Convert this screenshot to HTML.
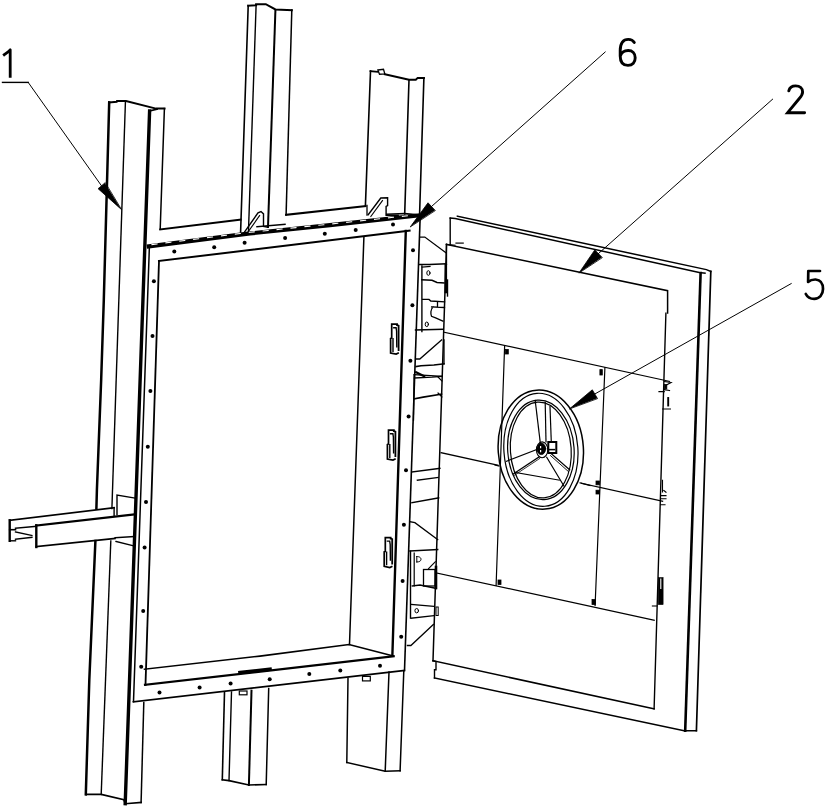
<!DOCTYPE html>
<html><head><meta charset="utf-8"><title>Door frame drawing</title>
<style>
html,body{margin:0;padding:0;background:#fff;}
body{width:827px;height:806px;overflow:hidden;font-family:"Liberation Sans",sans-serif;}
svg{display:block;}
</style></head><body>
<svg width="827" height="806" viewBox="0 0 827 806">
<g fill="none" stroke="#000" stroke-linecap="square" stroke-linejoin="miter">
<path d="M3.2,55.6 C5.5,53.8 8.5,51.8 10.2,49.8 L10.2,77.8" stroke-width="2.8" stroke-linejoin="round" stroke-linecap="butt"/>
<path d="M2.5,82.4 L28.2,82.4" stroke-width="1.4"/>
<path d="M28.2,82.4 L101.5,185.8" stroke-width="1.0"/>
<path d="M121.3,209.4 L98.1,188.7 L104.9,182.9 Z" fill="#000" stroke-width="0.8"/>
<path d="M634.3,42.5 C633,40.3 631,39.4 628.3,39.4 C623,39.4 620.3,43.5 620.2,50.5 L620.2,56 C620.2,62.2 623.3,65.4 628,65.4 C632.6,65.4 635.2,62.2 635.2,57.8 C635.2,53.3 632.4,50.5 628.2,50.5 C624.3,50.5 621.4,52.6 620.3,56" stroke-width="2.9" stroke-linecap="round"/>
<path d="M605.2,52.0 L431.5,206.5" stroke-width="1.0"/>
<path d="M410.5,226.6 L428.0,202.8 L435.0,210.2 Z" fill="#000" stroke-width="0.8"/>
<path d="M788.8,90.8 C789.6,87.6 791.9,85.9 795.6,85.9 C800,85.9 802.6,88.3 802.6,92 C802.6,94.6 801.4,96.2 799.3,98.5 L787.6,112.7 L804.6,112.7" stroke-width="2.9" stroke-linecap="round"/>
<path d="M772.6,99.2 L598.4,253.6" stroke-width="1.0"/>
<path d="M579.2,272.7 L594.8,249.9 L602.0,257.3 Z" fill="#000" stroke-width="0.8"/>
<path d="M820,271 L808.3,271 L808.1,282 C810,280.3 812.7,279.4 815.6,279.5 C820.6,279.9 823,283.9 823,289.1 C823,295 819.3,298.9 814.2,298.9 C810.2,298.9 807.3,297.1 805.8,294" stroke-width="2.7" stroke-linecap="round" stroke-linejoin="round"/>
<path d="M791.2,283.6 L594.8,394.0" stroke-width="1.0"/>
<path d="M569.7,408.7 L592.3,389.8 L597.3,398.2 Z" fill="#000" stroke-width="0.8"/>
<path d="M109.2,102.4 L116.7,101.8 L117.0,101.0 L126.0,101.0 L156.0,108.6 L164.5,108.6" stroke-width="2.0"/>
<path d="M149.6,111.0 L157.0,109.2" stroke-width="1.8"/>
<path d="M109.2,102.4 L103.8,300.0 L101.2,379.0 L96.9,490.0 L96.4,508.5" stroke-width="2.5"/>
<path d="M95.4,541.0 L89.3,680.0 L85.8,794.4" stroke-width="2.5"/>
<path d="M125.4,102.4 L111.9,508.5" stroke-width="1.4"/>
<path d="M110.8,541.0 L101.2,794.4" stroke-width="1.4"/>
<path d="M149.6,111.0 L125.2,803.7" stroke-width="3.4"/>
<path d="M164.4,108.6 L160.2,229.0" stroke-width="1.5"/>
<path d="M143.8,702.6 L141.1,802.4" stroke-width="1.5"/>
<path d="M85.8,794.4 L101.2,794.4 L123.8,799.7 L125.2,803.7 L141.1,802.4" stroke-width="1.6"/>
<path d="M248.2,5.7 L256.1,5.2 L256.1,4.2 L265.8,4.2 L275.4,9.5 L291.8,10.1" stroke-width="2.0"/>
<path d="M248.2,5.7 L240.6,232.0" stroke-width="1.6"/>
<path d="M256.1,5.2 L248.5,230.5" stroke-width="1.4"/>
<path d="M275.4,10.5 L268.0,227.0" stroke-width="2.0"/>
<path d="M291.8,10.1 L286.1,214.8" stroke-width="1.5"/>
<path d="M224.5,692.0 L222.3,779.8" stroke-width="1.6"/>
<path d="M231.5,692.0 L229.0,780.6" stroke-width="1.4"/>
<path d="M251.5,690.6 L248.9,785.0" stroke-width="2.0"/>
<path d="M268.7,688.5 L266.2,784.5" stroke-width="1.5"/>
<path d="M222.3,779.8 L229.0,780.6 L248.9,785.0 L266.2,784.5" stroke-width="1.6"/>
<path d="M370.5,71.1 L377.3,71.7" stroke-width="1.8"/>
<path d="M377.9,70 L383.5,69.3 L384.8,73.8 L379.5,74.2 Z" stroke-width="1.3"/>
<path d="M384.8,74.2 L409.0,79.8 L415.8,79.8 L417.7,77.9 L423.9,77.9" stroke-width="2.0"/>
<path d="M370.5,71.1 L365.4,206.1" stroke-width="1.6"/>
<path d="M409.0,79.8 L404.7,214.0" stroke-width="1.6"/>
<path d="M423.9,77.9 L419.5,217.0" stroke-width="1.6"/>
<path d="M348.0,678.2 L346.8,762.5" stroke-width="1.5"/>
<path d="M389.0,672.0 L385.2,771.2" stroke-width="1.5"/>
<path d="M403.8,670.7 L400.1,770.7" stroke-width="1.5"/>
<path d="M346.8,762.5 L385.2,771.2 L400.1,770.7" stroke-width="1.5"/>
<path d="M160.2,229.5 L240.6,219.6" stroke-width="2.0"/>
<path d="M286.1,214.8 L365.4,206.1" stroke-width="2.0"/>
<path d="M386.7,214.2 L404.7,213.5 L419.0,215.0" stroke-width="1.6"/>
<path d="M148.9,246.4 L250.0,233.4 L330.0,225.2 L418.0,215.5" stroke-width="4.2"/>
<path d="M152,244.6 L250,232.3 L330,224.1 L416,214.8" stroke="#fff" stroke-width="1.1" stroke-dasharray="5 9"/>
<path d="M159.0,261.0 L409.6,230.6" stroke-width="2.0"/>
<path d="M149.4,246.4 L133.5,701.6" stroke-width="1.5"/>
<path d="M159.0,261.0 L145.5,685.0" stroke-width="1.8"/>
<path d="M420.2,216.0 L404.5,670.5" stroke-width="1.6"/>
<path d="M405.8,231.0 L392.4,654.5" stroke-width="2.4"/>
<path d="M363.9,237.0 L349.5,644.5" stroke-width="1.5"/>
<path d="M144.5,669.2 L260.0,656.1 L349.0,644.5 L393.5,656.1" stroke-width="1.6"/>
<path d="M145.0,684.8 L393.6,656.3" stroke-width="2.2"/>
<path d="M240.0,672.5 L270.0,669.2" stroke-width="3.6"/>
<path d="M133.5,701.8 L404.3,670.5" stroke-width="1.8"/>
<rect x="362.5" y="676.4" width="7.8" height="4.5" stroke-width="1.2"/>
<rect x="239.3" y="691" width="7.7" height="3.8" stroke-width="1.2"/>
<path d="M244.1,232.6 L258.0,212.9 L261.0,211.6 L263.5,213.9 L263.5,226.5 L267.7,227.2" stroke-width="1.4"/>
<path d="M246.9,233.6 L259.6,215.6" stroke-width="1.1"/>
<path d="M368.2,214.7 L380.8,198.0 L387.6,197.7 L387.6,205.5 L386.1,206.4 L386.1,215.2 L398.2,215.2" stroke-width="1.4"/>
<path d="M370.8,216.5 L382.5,200.5" stroke-width="1.1"/>
<path d="M367.0,205.5 L367.0,215.2" stroke-width="1.3"/>
<path d="M257.0,226.8 L285.0,224.3" stroke-width="1.5"/>
<circle cx="174.3" cy="251.5" r="2.0" fill="#000" stroke="none"/>
<circle cx="214.2" cy="247.2" r="2.0" fill="#000" stroke="none"/>
<circle cx="244.6" cy="242.8" r="2.0" fill="#000" stroke="none"/>
<circle cx="285.1" cy="238.0" r="2.0" fill="#000" stroke="none"/>
<circle cx="324.8" cy="233.8" r="2.0" fill="#000" stroke="none"/>
<circle cx="355.7" cy="229.9" r="2.0" fill="#000" stroke="none"/>
<circle cx="393.0" cy="224.5" r="2.0" fill="#000" stroke="none"/>
<circle cx="153.9" cy="281.3" r="2.0" fill="#000" stroke="none"/>
<circle cx="152.5" cy="336.1" r="2.0" fill="#000" stroke="none"/>
<circle cx="150.4" cy="390.9" r="2.0" fill="#000" stroke="none"/>
<circle cx="147.8" cy="446.7" r="2.0" fill="#000" stroke="none"/>
<circle cx="146.0" cy="502.0" r="2.0" fill="#000" stroke="none"/>
<circle cx="144.6" cy="547.4" r="2.0" fill="#000" stroke="none"/>
<circle cx="143.2" cy="610.9" r="2.0" fill="#000" stroke="none"/>
<circle cx="141.2" cy="666.8" r="2.0" fill="#000" stroke="none"/>
<circle cx="159.5" cy="692.5" r="2.0" fill="#000" stroke="none"/>
<circle cx="199.6" cy="687.4" r="2.0" fill="#000" stroke="none"/>
<circle cx="230.6" cy="683.6" r="2.0" fill="#000" stroke="none"/>
<circle cx="269.7" cy="679.3" r="2.0" fill="#000" stroke="none"/>
<circle cx="309.3" cy="674.1" r="2.0" fill="#000" stroke="none"/>
<circle cx="340.3" cy="670.6" r="2.0" fill="#000" stroke="none"/>
<circle cx="380.0" cy="665.8" r="2.0" fill="#000" stroke="none"/>
<circle cx="413.0" cy="250.3" r="2.0" fill="#000" stroke="none"/>
<circle cx="412.4" cy="305.3" r="2.0" fill="#000" stroke="none"/>
<circle cx="410.4" cy="360.8" r="2.0" fill="#000" stroke="none"/>
<circle cx="408.6" cy="416.4" r="2.0" fill="#000" stroke="none"/>
<circle cx="406.0" cy="470.2" r="2.0" fill="#000" stroke="none"/>
<circle cx="403.9" cy="524.8" r="2.0" fill="#000" stroke="none"/>
<circle cx="402.6" cy="580.9" r="2.0" fill="#000" stroke="none"/>
<circle cx="401.2" cy="636.8" r="2.0" fill="#000" stroke="none"/>
<path d="M9.7,520.3 L9.7,540.8" stroke-width="2.4"/>
<path d="M9.7,520.3 L114.1,507.7" stroke-width="1.6"/>
<path d="M114.1,507.7 L114.1,516.0" stroke-width="1.4"/>
<path d="M36.3,525.5 L133.5,514.5" stroke-width="2.2"/>
<path d="M9.7,529.7 L15.5,529.7" stroke-width="1.6"/>
<path d="M15.5,528.2 L36.3,526.3" stroke-width="1.4"/>
<path d="M15.5,532.0 L31.9,535.5" stroke-width="1.4"/>
<path d="M15.5,539.3 L31.9,537.4" stroke-width="1.4"/>
<path d="M9.7,540.8 L15.5,540.8" stroke-width="1.4"/>
<path d="M36.3,525.3 L36.3,547.0" stroke-width="2.4"/>
<path d="M36.3,546.6 L115.0,538.5" stroke-width="1.6"/>
<path d="M117.0,514.5 L117.0,495.1 L134.5,498.0" stroke-width="1.4"/>
<path d="M115.1,537.7 L134.0,536.5" stroke-width="1.4"/>
<path d="M116.0,541.5 L134.0,546.0" stroke-width="1.4"/>
<path d="M457.4,216.2 L706.4,269.6 L710.8,271.4" stroke-width="1.5"/>
<path d="M450.2,218.1 L455.2,218.6 L699.2,272.5 L705.0,273.2" stroke-width="1.5"/>
<path d="M450.2,218.1 L450.2,244.5" stroke-width="1.4"/>
<path d="M710.8,271.4 L696.4,730.7" stroke-width="1.7"/>
<path d="M700.6,273.0 L685.2,730.7" stroke-width="2.6"/>
<path d="M434.5,678.0 L684.1,730.7 L696.4,730.7" stroke-width="1.5"/>
<path d="M446.5,244.5 L667.6,290.7 L667.6,313.0" stroke-width="1.5"/>
<path d="M665.9,313.3 L654.1,708.9" stroke-width="1.4"/>
<path d="M446.5,244.5 L433.0,660.8" stroke-width="1.5"/>
<path d="M433.0,660.8 L654.1,708.9" stroke-width="1.5"/>
<path d="M456.0,243.1 L463.2,243.1" stroke-width="1.2"/>
<path d="M444.5,332.4 L669.4,381.4" stroke-width="1.2"/>
<path d="M441.1,452.7 L498.0,465.2" stroke-width="1.2"/>
<path d="M581.5,483.3 L662.6,501.3" stroke-width="1.2"/>
<path d="M436.9,573.0 L654.2,620.3" stroke-width="1.2"/>
<path d="M504.6,346.7 L496.1,585.4" stroke-width="1.2"/>
<path d="M604.9,367.7 L595.1,605.5" stroke-width="1.2"/>
<ellipse cx="540.8" cy="449.6" rx="42.6" ry="59.6" transform="rotate(-4 540.8 449.6)" stroke-width="1.5"/>
<ellipse cx="540.9" cy="449.8" rx="37.0" ry="56.6" transform="rotate(-4 540.9 449.8)" stroke-width="1.2"/>
<ellipse cx="540.9" cy="449.9" rx="33.2" ry="49.8" transform="rotate(-4 540.9 449.9)" stroke-width="1.2"/>
<ellipse cx="540.8" cy="450.0" rx="30.4" ry="47.9" transform="rotate(-4 540.8 450.0)" stroke-width="1.2"/>
<ellipse cx="541.3" cy="448.8" rx="4.4" ry="5.8" fill="#000" stroke-width="0.8"/>
<ellipse cx="542.1" cy="449.8" rx="5.7" ry="7.9" stroke-width="1.1"/>
<path d="M540.6,446.5 L540.6,447.6 M540.6,450.5 L540.6,451.6" stroke="#fff" stroke-width="1.2"/>
<rect x="548.3" y="442" width="8" height="11" stroke-width="2"/>
<path d="M549.6,449.6 L554.5,449.6" stroke-width="1.5"/>
<path d="M535.2,400.5 L540.5,444.5" stroke-width="1.2"/>
<path d="M545.2,402.0 L546.0,442.0" stroke-width="1.2"/>
<path d="M550.0,406.5 L551.3,442.5" stroke-width="1.2"/>
<path d="M537.5,449.2 L506.5,461.3" stroke-width="1.2"/>
<path d="M538.7,457.2 L513.4,473.9" stroke-width="1.2"/>
<path d="M539.7,458.5 L514.5,475.2" stroke-width="0.8"/>
<path d="M546.7,457.2 L563.9,486.0" stroke-width="1.2"/>
<path d="M551.3,453.8 L569.7,469.9" stroke-width="1.2"/>
<path d="M550.5,455.6 L568.5,471.6" stroke-width="0.9"/>
<path d="M514.5,472.2 L559.3,480.2" stroke-width="1.1"/>
<path d="M580.0,482.9 L590.0,485.5" stroke-width="1.1"/>
<path d="M495.0,465.0 L499.0,466.0" stroke-width="1.1"/>
<path d="M446.5,244.4 L455.0,245.2" stroke-width="1.2"/>
<path d="M433.0,660.8 L436.0,661.6 L436.0,669.8 L434.5,669.8 L434.5,678.0" stroke-width="1.4"/>
<path d="M420.0,237.1 L424.8,237.1 L446.1,252.8" stroke-width="1.3"/>
<path d="M446.5,244.4 L446.5,264.5" stroke-width="1.3"/>
<path d="M419.5,264.5 L429.2,264.5 L446.1,263.7" stroke-width="1.5"/>
<path d="M421.9,266.0 L421.9,331.6" stroke-width="1.4"/>
<path d="M422.3,267.0 L430.0,266.5" stroke-width="1.2"/>
<path d="M421.9,279.8 L432.0,280.2 L437.0,282.5 L444.0,283.0" stroke-width="1.5"/>
<path d="M422.7,299.4 L429.0,299.4 L430.8,301.0 L444.5,301.8" stroke-width="1.4"/>
<path d="M431.6,307 L444.5,307.5 M433,307 C430.5,309 430.5,314 431.5,316.3 L435.6,317.9 L442.9,321.1 M437.5,302 L437.5,307" stroke-width="1.3"/>
<path d="M415.5,330.0 L442.9,329.2" stroke-width="1.4"/>
<ellipse cx="428.4" cy="273" rx="1.6" ry="2.3" transform="rotate(0 428.4 273)" stroke-width="1.0"/>
<ellipse cx="426.8" cy="324.3" rx="1.6" ry="2.3" transform="rotate(0 426.8 324.3)" stroke-width="1.0"/>
<path d="M445.8,265.0 L445.8,292.0" stroke-width="2.6"/>
<path d="M447.5,280.0 L447.5,296.0" stroke-width="1.4"/>
<path d="M416.1,359.0 L419.8,359.0 L441.6,340.0" stroke-width="1.3"/>
<path d="M416.1,366.6 L421.0,365.8 L433.9,365.0 L444.0,363.8" stroke-width="1.5"/>
<path d="M444.0,340.0 L444.0,363.8" stroke-width="1.3"/>
<path d="M416.1,372.3 L424.2,376.3" stroke-width="2.2"/>
<path d="M414.5,374.7 L441.9,376.3" stroke-width="1.4"/>
<path d="M414.5,378.0 L432.0,377.2 L441.9,376.3" stroke-width="1.3"/>
<path d="M414.5,398.7 L423.2,397.1 L441.5,394.2" stroke-width="1.6"/>
<path d="M414.1,374.7 L413.5,420.0" stroke-width="1.3"/>
<path d="M412.1,471.9 L439.9,468.4" stroke-width="1.4"/>
<path d="M438.0,377.0 L441.9,381.0" stroke-width="1.2"/>
<path d="M438.0,393.0 L441.9,397.0" stroke-width="1.2"/>
<path d="M417.4,480.2 L438.0,477.5" stroke-width="1.4"/>
<path d="M411.9,502.8 L438.7,497.9" stroke-width="1.4"/>
<path d="M409.9,521.7 L414.9,522.7 L437.7,539.6" stroke-width="1.3"/>
<path d="M409.9,551.0 L437.7,549.5" stroke-width="1.4"/>
<path d="M410.5,551.2 L410.5,618.0" stroke-width="1.4"/>
<path d="M414.2,553.0 L414.2,586.0" stroke-width="1.2"/>
<path d="M416.8,556.5 L416.8,562 M416.8,556.5 C420,556.5 421,558 421,559.3 C421,561 419.5,562 416.8,562" stroke-width="1.0"/>
<rect x="423.5" y="569.5" width="11.5" height="16.5" stroke-width="1.3"/>
<path d="M428.5,568.6 L435.3,561.8" stroke-width="1.1"/>
<path d="M436.0,567.0 L436.0,588.0" stroke-width="2.6"/>
<path d="M412.4,586.0 L420.0,585.0 L435.9,588.4" stroke-width="1.5"/>
<path d="M411.1,604.5 L433.4,606.4" stroke-width="1.3"/>
<path d="M411.1,618.2 L433.4,615.7" stroke-width="1.3"/>
<ellipse cx="416.7" cy="610.7" rx="1.8" ry="2.2" transform="rotate(0 416.7 610.7)" stroke-width="1.0"/>
<rect x="436" y="607" width="2.2" height="8.5" stroke-width="1.0"/>
<path d="M407.4,645.5 L410.9,645.5 L433.4,624.4" stroke-width="1.3"/>
<path d="M397.1,324.2 L391.7,324.2 L391.7,338.0 L390.6,338.5 L390.6,353.0 L396.2,354.1 L398.1,353.2" stroke-width="1.7"/>
<path d="M393.8,327.7 L396.1,327.7 L396.6,331.2 L396.8,346.7 M393.0,338.7 L393.0,351.2" stroke-width="1.4"/>
<path d="M397.1,325.2 L398.6,325.7 L398.6,350.2" stroke-width="1.8"/>
<path d="M393.9,430.2 L388.5,430.2 L388.5,444.0 L387.4,444.5 L387.4,459.0 L393.0,460.1 L394.9,459.2" stroke-width="1.7"/>
<path d="M390.6,433.7 L392.9,433.7 L393.4,437.2 L393.6,452.7 M389.8,444.7 L389.8,457.2" stroke-width="1.4"/>
<path d="M393.9,431.2 L395.4,431.7 L395.4,456.2" stroke-width="1.8"/>
<path d="M390.7,537.6 L385.3,537.6 L385.3,551.4 L384.2,551.9 L384.2,566.4 L389.8,567.5 L391.7,566.6" stroke-width="1.7"/>
<path d="M387.4,541.1 L389.7,541.1 L390.2,544.6 L390.4,560.1 M386.6,552.1 L386.6,564.6" stroke-width="1.4"/>
<path d="M390.7,538.6 L392.2,539.1 L392.2,563.6" stroke-width="1.8"/>
<path d="M664.5,381.5 L671,382.5 L665.5,385.5 M664.5,389.7 L669.5,390.5 M659,391.7 L664.2,391.7 M662.7,409 L670.4,409" stroke-width="1.2"/>
<rect x="664.3" y="384.3" width="2.6" height="4.6" fill="#000" stroke-width="0.6"/>
<path d="M668.2,398 L668.2,405.5" stroke-width="1.9"/>
<rect x="596" y="481" width="3.5" height="3.8" stroke-width="0.8" fill="#000"/>
<rect x="596" y="490.2" width="3.5" height="3.8" stroke-width="0.8" fill="#000"/>
<path d="M662.5,480.3 L662.5,492 M663.8,490.5 L666,492.3 M661,495.6 L666,495.6 M660.5,498.8 L666,498.8 M660.5,504.8 L665,504.8" stroke-width="1.1"/>
<rect x="658.3" y="577.6" width="4.8" height="27" fill="#000" stroke-width="0.6"/>
<path d="M660.8,579 L660.8,588.5" stroke="#fff" stroke-width="1.1"/>
<path d="M652.4,606 L656.7,606" stroke-width="1.1"/>
<rect x="505.3" y="349.5" width="3" height="4.5" fill="#000" stroke-width="0.8"/>
<rect x="599.9" y="369.6" width="2.4" height="5.4" fill="#000" stroke-width="0.8"/>
<rect x="498" y="580" width="3" height="4.5" fill="#000" stroke-width="0.8"/>
<rect x="592" y="599.5" width="3.5" height="5" fill="#000" stroke-width="0.8"/>
</g>
</svg>
</body></html>
